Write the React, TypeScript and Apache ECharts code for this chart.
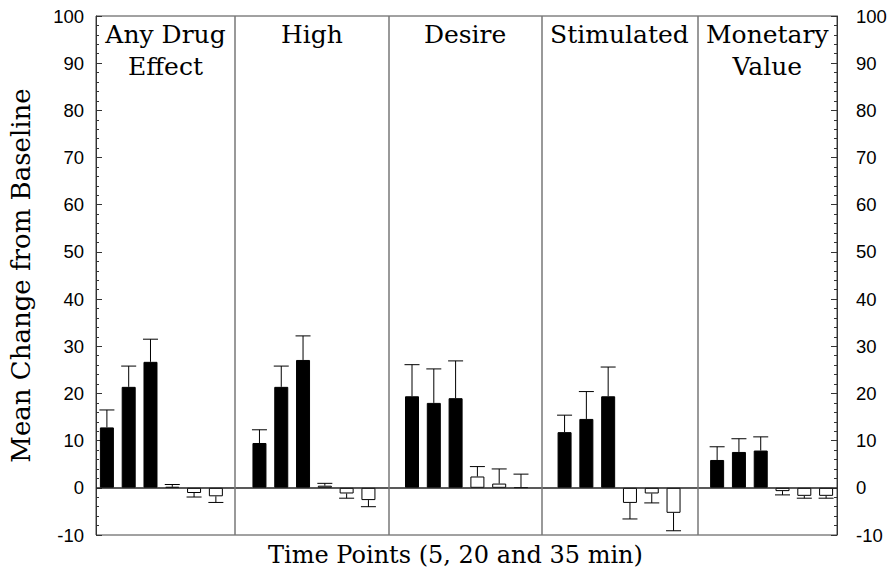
import React, { useEffect, useRef } from "react";
import * as echarts from "echarts";

// Panel titles
const panels: string[] = ["Any Drug\nEffect", "High", "Desire", "Stimulated", "Monetary\nValue"];
// Divider positions between panels (in bar-slot units)
const dividers: number[] = [6.38, 13.44, 20.43, 27.6];
// Active drug: 3 time points per panel (5, 20, 35 min)
const activeMeans: number[] = [12.8, 21.4, 26.7, 9.5, 21.4, 27.1, 19.4, 18.0, 19.0, 11.8, 14.6, 19.4, 5.9, 7.6, 7.9];
const activeSEM: number[] = [3.7, 4.4, 4.8, 2.8, 4.4, 5.1, 6.7, 7.2, 7.9, 3.6, 5.8, 6.2, 2.8, 2.8, 2.9];
// Placebo: 3 time points per panel
const placeboMeans: number[] = [0.2, -1.1, -1.8, 0.45, -1.2, -2.6, 2.4, 0.9, 0.1, -3.2, -1.2, -5.3, -0.7, -1.7, -1.7];
const placeboSEM: number[] = [0.5, 0.85, 1.3, 0.5, 1.0, 1.4, 2.1, 3.1, 2.8, 3.4, 2.0, 3.8, 0.8, 0.5, 0.5];
// Y axis
const yMin = -10;
const yMax = 100;
const yStep = 10;

const SLOTS_PER_PANEL = 7;
const TOTAL_SLOTS = panels.length * SLOTS_PER_PANEL - 1;

export default function App() {
  const ref = useRef<HTMLDivElement>(null);
  useEffect(() => {
    if (!ref.current) return;
    const chart = echarts.init(ref.current, undefined, { renderer: "svg" });

    const activeData: number[][] = [];
    const placeboData: number[][] = [];
    const errData: number[][] = [];
    panels.forEach((_, p) => {
      for (let t = 0; t < 3; t++) {
        const i = p * 3 + t;
        const xa = p * SLOTS_PER_PANEL + t + 0.5;
        const xp = p * SLOTS_PER_PANEL + t + 3.5;
        activeData.push([xa, activeMeans[i]]);
        placeboData.push([xp, placeboMeans[i]]);
        errData.push([xa, activeMeans[i], activeSEM[i]]);
        errData.push([xp, placeboMeans[i], placeboSEM[i]]);
      }
    });

    const bounds = [0, ...dividers, TOTAL_SLOTS];
    const areas = panels.map((name, p) => [
      { xAxis: bounds[p], yAxis: yMax, name },
      { xAxis: bounds[p + 1], yAxis: yMin },
    ]);

    const yAxisBase = (position: "left" | "right") => ({
      type: "value",
      position,
      min: yMin,
      max: yMax,
      interval: yStep,
      axisLine: { show: true, lineStyle: { color: "#333", width: 1 } },
      axisTick: { show: true, inside: true, length: 6, lineStyle: { color: "#333" } },
      minorTick: { show: true, splitNumber: 5, length: 3, lineStyle: { color: "#333" } },
      splitLine: { show: false },
      axisLabel: {
        color: "#000",
        fontFamily: "Liberation Sans, Arial, sans-serif",
        fontSize: 18.5,
        margin: position === "left" ? 12 : 19,
      },
    });

    chart.setOption({
      animation: false,
      backgroundColor: "#fff",
      grid: {
        left: 95,
        right: 59,
        top: 16,
        bottom: 45,
        show: true,
        borderColor: "#444",
        borderWidth: 1,
        backgroundColor: "transparent",
      },
      xAxis: {
        type: "value",
        min: 0,
        max: TOTAL_SLOTS,
        axisLine: { show: false },
        axisTick: { show: false },
        axisLabel: { show: false },
        splitLine: { show: false },
        name: "Time Points (5, 20 and 35 min)",
        nameLocation: "middle",
        nameGap: 8,
        nameTextStyle: {
          fontFamily: "DejaVu Serif",
          fontSize: 24,
          color: "#000",
          verticalAlign: "top",
          padding: [0, 22, 0, 0],
        },
      },
      yAxis: [
        {
          ...yAxisBase("left"),
          name: "Mean Change from Baseline",
          nameLocation: "middle",
          nameGap: 62,
          nameTextStyle: { fontFamily: "DejaVu Serif", fontSize: 26, color: "#000" },
        },
        yAxisBase("right"),
      ],
      series: [
        {
          type: "bar",
          name: "Active",
          data: activeData,
          barWidth: 14,
          barGap: "-100%",
          itemStyle: { color: "#000", borderColor: "#000", borderWidth: 1 },
          markLine: {
            silent: true,
            symbol: "none",
            label: { show: false },
            data: [
              { yAxis: 0, lineStyle: { color: "#222", width: 1.5, type: "solid" } },
              ...dividers.map((d) => ({ xAxis: d, lineStyle: { color: "#777", width: 1.5, type: "solid" } })),
            ],
          },
          markArea: {
            silent: true,
            itemStyle: { color: "rgba(0,0,0,0)" },
            label: {
              show: true,
              position: "insideTop",
              distance: 2,
              color: "#000",
              fontFamily: "DejaVu Serif",
              fontSize: 25,
              lineHeight: 32,
              align: "center",
            },
            data: areas,
          },
          z: 2,
        },
        {
          type: "bar",
          name: "Placebo",
          data: placeboData,
          barWidth: 14,
          barGap: "-100%",
          itemStyle: { color: "#fff", borderColor: "#000", borderWidth: 1 },
          z: 2,
        },
        {
          type: "custom",
          name: "SEM",
          data: errData,
          encode: { x: 0, y: 1 },
          z: 3,
          renderItem: (params: any, api: any) => {
            const x = api.value(0);
            const m = api.value(1);
            const e = api.value(2);
            const end = m >= 0 ? m + e : m - e;
            const p0 = api.coord([x, m]);
            const p1 = api.coord([x, end]);
            const hw = 7.5;
            return {
              type: "group",
              children: [
                {
                  type: "line",
                  shape: { x1: p0[0], y1: p0[1], x2: p1[0], y2: p1[1] },
                  style: { stroke: "#000", lineWidth: 1 },
                },
                {
                  type: "line",
                  shape: { x1: p1[0] - hw, y1: p1[1], x2: p1[0] + hw, y2: p1[1] },
                  style: { stroke: "#000", lineWidth: 1 },
                },
              ],
            };
          },
        },
      ],
    });
    return () => chart.dispose();
  }, []);
  return <div ref={ref} style={{ position: "absolute", left: 0, top: 0, width: 896, height: 580 }} />;
}
